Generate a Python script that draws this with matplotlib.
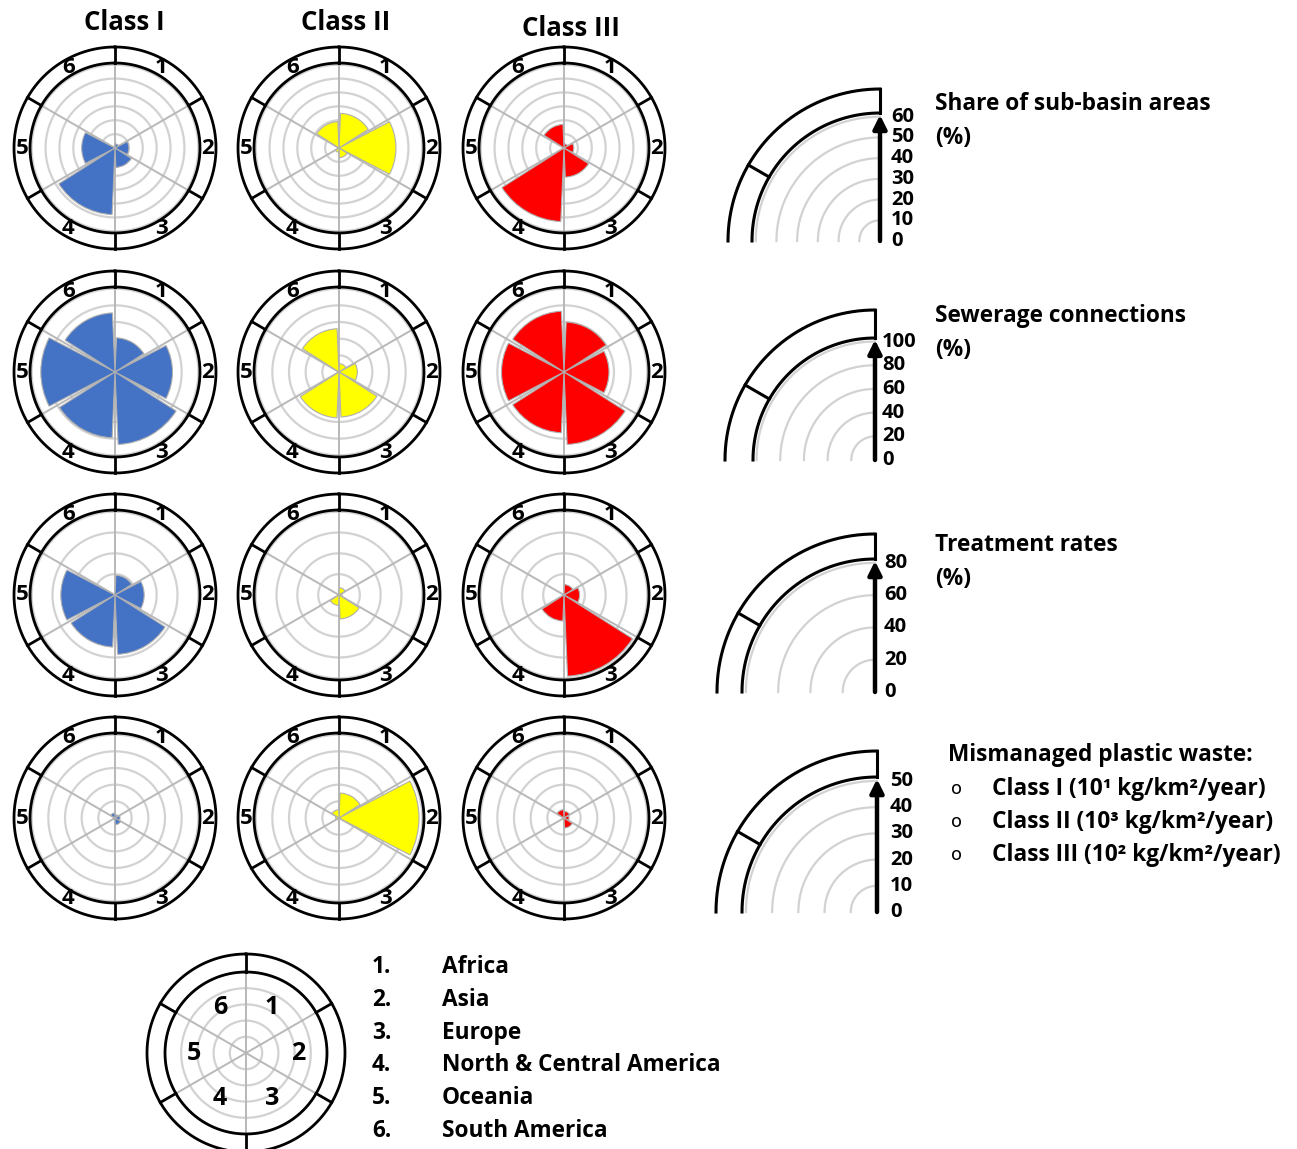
import numpy as np
import matplotlib
matplotlib.use("Agg")
import matplotlib.pyplot as plt

plt.rcParams['font.family'] = ['Open Sans', 'DejaVu Sans']

W, H, DPI = 1297, 1149, 100

# ---------------------------------------------------------------- data
regions = ["Africa", "Asia", "Europe", "North & Central America",
           "Oceania", "South America"]
class_names = ["Class I", "Class II", "Class III"]
class_colors = ["#4472C4", "#FFFF00", "#FF0000"]

# share of sub-basin areas (%)
share_I = [3, 10, 14, 48, 24, 0]
share_II = [25, 41, 7, 3, 0, 19]
share_III = [3, 7, 21, 53, 0, 17]

# sewerage connections (%)
sewer_I = [41, 69, 87, 79, 89, 71]
sewer_II = [10, 22, 54, 55, 0, 52]
sewer_III = [60, 54, 87, 73, 75, 73]

# treatment rates (%)
treat_I = [19, 28, 57, 50, 52, 0]
treat_II = [7, 3, 23, 10, 0, 0]
treat_III = [10, 15, 78, 25, 0, 0]

# mismanaged plastic waste (class-specific units)
mpw_I = [2, 3, 4, 1, 1, 3]
mpw_II = [15, 48, 0, 0, 2, 5]
mpw_III = [4, 3, 6, 1, 0, 5]

share_ticks = [0, 10, 20, 30, 40, 50, 60]
sewer_ticks = [0, 20, 40, 60, 80, 100]
treat_ticks = [0, 20, 40, 60, 80]
mpw_ticks = [0, 10, 20, 30, 40, 50]

indicator_titles = ["Share of sub-basin areas", "Sewerage connections",
                    "Treatment rates", "Mismanaged plastic waste:"]
mpw_units = ["Class I (10\u00b9 kg/km\u00b2/year)",
             "Class II (10\u00b3 kg/km\u00b2/year)",
             "Class III (10\u00b2 kg/km\u00b2/year)"]

rows = [
    (share_ticks, [share_I, share_II, share_III]),
    (sewer_ticks, [sewer_I, sewer_II, sewer_III]),
    (treat_ticks, [treat_I, treat_II, treat_III]),
    (mpw_ticks, [mpw_I, mpw_II, mpw_III]),
]

# ---------------------------------------------------------------- layout
fig = plt.figure(figsize=(W / DPI, H / DPI), dpi=DPI)
fig.patch.set_facecolor("white")

GRID = "#d2d2d2"
SPOKE = "#b8b8b8"
FULL = np.linspace(0, 2 * np.pi, 721)
EDGES = np.deg2rad(np.arange(0, 360, 60))
CENTERS = np.deg2rad(np.arange(30, 360, 60))


def fx(px):
    return px / W


def fy(py):
    return 1 - py / H


def polar_at(cx, cy, half):
    ax = fig.add_axes([(cx - half) / W, (H - cy - half) / H,
                       2 * half / W, 2 * half / H], projection="polar")
    ax.set_theta_zero_location("N")
    ax.set_theta_direction(-1)
    ax.set_xticks([])
    ax.set_yticks([])
    ax.grid(False)
    ax.spines["polar"].set_visible(False)
    ax.patch.set_alpha(0)
    return ax


def draw_rose(cx, cy, ticks, values=None, color=None, r_in_px=85,
              r_out_px=101, ratio=1.02, num_r=None, num_size=16):
    top = ticks[-1]
    scale = top * ratio / r_in_px
    r_in, r_out = top * ratio, r_out_px * scale
    half = r_out_px + 5
    ax = polar_at(cx, cy, half)
    ax.set_ylim(0, half * scale)
    for g in ticks[1:]:
        ax.plot(FULL, np.full_like(FULL, g), color=GRID, lw=1.6, zorder=1)
    for a in EDGES:
        ax.plot([a, a], [0, r_in], color=SPOKE, lw=1.4, zorder=1.5)
    if values is not None:
        ax.bar(CENTERS, values, width=np.deg2rad(55), bottom=0, color=color,
               edgecolor="#b0b0b0", linewidth=0.8, zorder=3)
    for r in (r_in, r_out):
        ax.plot(FULL, np.full_like(FULL, r), color="black", lw=2.0, zorder=4)
    for a in EDGES:
        ax.plot([a, a], [r_in, r_out], color="black", lw=2.0, zorder=4)
    rr = (r_in + r_out) / 2 if num_r is None else num_r * scale
    for i, c in enumerate(CENTERS):
        ax.text(c, rr, str(i + 1), ha="center", va="center",
                fontsize=num_size, fontweight="bold", zorder=5)
    return ax


def draw_scale(cx, cy, ticks, r_in_px, r_out_px, label_dx=10):
    top = ticks[-1]
    scale = top * 1.03 / r_in_px
    r_in, r_out = top * 1.03, r_out_px * scale
    half = r_out_px + 5
    ax = polar_at(cx, cy, half)
    ax.set_ylim(0, half * scale)
    arc = np.linspace(1.5 * np.pi, 2 * np.pi, 200)
    for g in ticks[1:]:
        ax.plot(arc, np.full_like(arc, g), color=GRID, lw=1.6, zorder=1)
    for r in (r_in, r_out):
        ax.plot(arc, np.full_like(arc, r), color="black", lw=2.2, zorder=3)
    ax.plot([2 * np.pi] * 2, [r_in, r_out], color="black", lw=2.2, zorder=3)
    ax.plot([np.deg2rad(300)] * 2, [r_in, r_out], color="black", lw=2.2,
            zorder=3)
    ax.annotate("", xy=(0, r_in * 0.985), xytext=(0, 0),
                arrowprops=dict(arrowstyle="-|>", color="black", lw=3.2,
                                mutation_scale=20, shrinkA=0, shrinkB=0),
                zorder=4)
    for v in ticks:
        ax.annotate(str(v), xy=(0, v), xytext=(label_dx, 0),
                    textcoords="offset pixels", ha="left", va="center",
                    fontsize=14.5, fontweight="bold")
    return ax


# main grid of roses
col_x = [115, 339, 564]
row_y = [148, 372, 595, 818]
for ri, (ticks, series) in enumerate(rows):
    for ci in range(3):
        draw_rose(col_x[ci], row_y[ri], ticks, series[ci], class_colors[ci])

# column titles
for ci, (name, ty) in enumerate(zip(class_names, [22, 22, 28])):
    fig.text(fx([124, 346, 571][ci]), fy(ty), name, ha="center", va="center",
             fontsize=18.5, fontweight="bold")

# axis scales on the right
draw_scale(880, 241, share_ticks, 128, 152, label_dx=11)
draw_scale(875, 460, sewer_ticks, 122, 150, label_dx=7)
draw_scale(875, 692, treat_ticks, 133, 158, label_dx=9)
draw_scale(877, 912, mpw_ticks, 135, 161, label_dx=13)

title_style = dict(ha="left", va="center", fontsize=16.3, fontweight="bold")
for title, ty in zip(indicator_titles[:3], [104, 316, 545]):
    fig.text(fx(935), fy(ty), title, **title_style)
    fig.text(fx(935), fy(ty + 34), "(%)", **title_style)
fig.text(fx(948), fy(755), indicator_titles[3], **title_style)
for k, unit in enumerate(mpw_units):
    yy = 789 + 33 * k
    fig.text(fx(956), fy(yy), "o", ha="center", va="center", fontsize=13,
             family="DejaVu Sans")
    fig.text(fx(992), fy(yy), unit, **title_style)

# region key
draw_rose(246, 1053, [0, 1, 2, 3, 4, 5], r_in_px=81, r_out_px=99, ratio=1.0,
          num_r=52, num_size=18)
for i, name in enumerate(regions):
    yy = 967 + 32.8 * i
    fig.text(fx(372), fy(yy), f"{i + 1}.", **title_style)
    fig.text(fx(442), fy(yy), name, **title_style)

fig.savefig("out.png", dpi=DPI, facecolor="white")
